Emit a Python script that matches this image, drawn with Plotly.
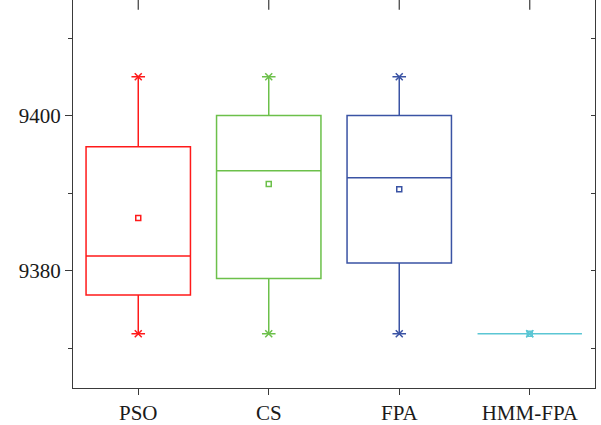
import plotly.graph_objects as go

# Algorithms compared
categories = ["PSO", "CS", "FPA", "HMM-FPA"]

# Box statistics per algorithm
lower_whisker = [9371.9, 9371.9, 9371.9, 9371.9]
q1_values = [9376.9, 9379.0, 9381.0, 9371.9]
median_values = [9381.9, 9392.9, 9392.0, 9371.9]
q3_values = [9396.0, 9400.0, 9400.0, 9371.9]
upper_whisker = [9405.0, 9405.0, 9405.0, 9371.9]
mean_values = [9386.8, 9391.2, 9390.5, 9371.9]

colors = ["#ff1a1a", "#6cc04a", "#3a53a4", "#5bc6d4"]

FONT = "Liberation Serif, serif"
AXIS = "#3a3a3a"
y_range = [9364.9, 9414.9]

fig = go.Figure()

for i, cat in enumerate(categories):
    c = colors[i]
    fig.add_trace(go.Box(
        x=[cat],
        q1=[q1_values[i]], median=[median_values[i]], q3=[q3_values[i]],
        lowerfence=[lower_whisker[i]], upperfence=[upper_whisker[i]],
        boxpoints=False,
        line=dict(color=c, width=1.5),
        fillcolor="rgba(0,0,0,0)",
        width=0.8,
        whiskerwidth=0.13,
        showlegend=False,
        hoverinfo="skip",
    ))
    # whisker end markers
    fig.add_trace(go.Scatter(
        x=[cat, cat], y=[lower_whisker[i], upper_whisker[i]],
        mode="markers",
        marker=dict(symbol="x-thin-open", size=7, color=c,
                    line=dict(color=c, width=1.5)),
        showlegend=False, hoverinfo="skip",
    ))
    # mean marker
    fig.add_trace(go.Scatter(
        x=[cat], y=[mean_values[i]],
        mode="markers",
        marker=dict(symbol="square-open", size=5, color=c,
                    line=dict(color=c, width=1.5)),
        showlegend=False, hoverinfo="skip",
    ))

# category ticks along the top edge (lower half kept by the plot clip)
fig.add_trace(go.Scatter(
    x=categories, y=[y_range[1]] * len(categories),
    mode="markers", cliponaxis=True,
    marker=dict(symbol="line-ns", size=14, color=AXIS,
                line=dict(color=AXIS, width=1.2)),
    showlegend=False, hoverinfo="skip",
))

fig.update_layout(
    width=601, height=425,
    margin=dict(l=73, r=6, t=0, b=37),
    paper_bgcolor="white", plot_bgcolor="white",
    font=dict(family=FONT, size=21, color="#1a1a1a"),
    xaxis=dict(
        type="category", range=[-0.5, 3.5],
        categoryorder="array", categoryarray=categories,
        showline=True, linecolor=AXIS, linewidth=1.3,
        ticks="outside", ticklen=6, tickwidth=1.2, tickcolor=AXIS,
        showgrid=False, zeroline=False,
        tickfont=dict(family=FONT, size=21, color="#1a1a1a"),
    ),
    yaxis=dict(
        range=y_range, tick0=9380, dtick=20,
        showline=True, linecolor=AXIS, linewidth=1.3,
        ticks="outside", ticklen=7, tickwidth=1.2, tickcolor=AXIS,
        minor=dict(dtick=10, tick0=9370, ticks="outside", ticklen=4,
                   tickwidth=1.2, tickcolor=AXIS, showgrid=False),
        showgrid=False, zeroline=False,
        tickfont=dict(family=FONT, size=21, color="#1a1a1a"),
    ),
    yaxis2=dict(
        range=y_range, overlaying="y", side="right", anchor="x",
        tick0=9370, dtick=10,
        showline=True, linecolor=AXIS, linewidth=1.3,
        ticks="inside", ticklen=4, tickwidth=1.2, tickcolor=AXIS,
        showticklabels=False, showgrid=False, zeroline=False,
    ),
)

# transparent trace so the right-hand axis gets drawn
fig.add_trace(go.Scatter(x=categories, y=[9380] * len(categories),
                         xaxis="x", yaxis="y2",
                         mode="markers", marker=dict(opacity=0),
                         showlegend=False, hoverinfo="skip"))

fig.write_html("out.html")
